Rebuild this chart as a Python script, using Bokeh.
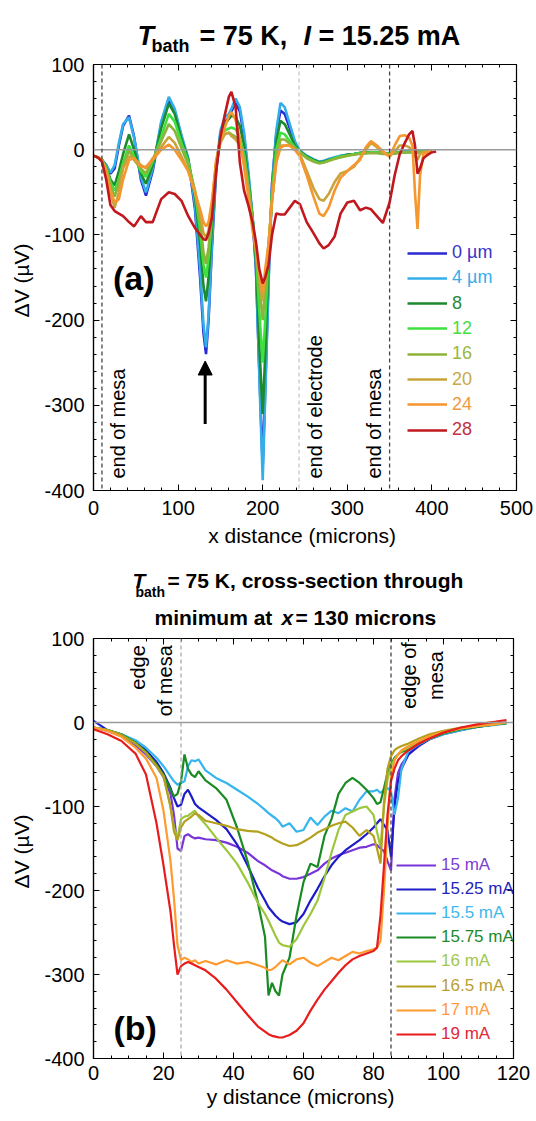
import math
from bokeh.plotting import figure
from bokeh.models import (Span, Label, Legend, LegendItem, LinearAxis,
                          SingleIntervalTicker, Arrow, NormalHead, Range1d,
                          PrintfTickFormatter)
from bokeh.layouts import column
from bokeh.embed import file_html
from bokeh.resources import INLINE

FONT = "Liberation Sans"
nan = float("nan")
W = 536
LEFT = 93

# ---------------- panel (a): Delta V vs x distance ----------------
xa = [0, 5, 10, 15, 20, 25, 30, 35, 42, 48, 56, 62, 70, 80, 89, 96,
      104, 112, 120, 126, 130, 133, 136, 140, 145, 150, 155, 160, 163, 168, 173, 178,
      183, 188, 192, 196, 200, 203, 207, 211, 216, 221, 226, 232, 238, 244, 252, 260,
      267, 272, 278, 285, 292, 300, 308, 315, 322, 328, 335, 342, 350, 356, 362, 368,
      373, 377, 380, 383, 386, 390, 395, 400, 405]

a_0um = [-7, -9, -12, -18, -28, -22, 5, 28, 40, 15, -35, -54, -25, 30, 58, 45,
         15, -12, -70, -150, -215, -240, -200, -115, -25, 18, 32, 38, 45, 55, 45, 15,
         -30, -80, -140, -260, -372, -280, -150, -40, 18, 46, 42, 25, 8, -2, -8, -12,
         -15, -14, -12, -10, -8, -6, -5, -4, -3, -3, -3, -4, -5, -4, -3, -2,
         -2, -2, -2, -3, -2, -2, -1, -1, nan]
a_4um = [-7, -9, -12, -18, -27, -18, 8, 30, 38, 14, -32, -50, -22, 33, 62, 48,
         17, -10, -65, -140, -205, -232, -195, -110, -20, 22, 38, 42, 48, 60, 50, 20,
         -25, -78, -135, -265, -388, -290, -155, -45, 22, 55, 50, 30, 10, -1, -7, -11,
         -14, -13, -11, -9, -7, -6, -5, -4, -3, -3, -3, -4, -4, -3, -3, -2,
         -2, -2, -2, -2, -2, -1, -1, -1, nan]
a_8 = [-7, -9, -12, -20, -35, -42, -25, -5, 18, 0, -28, -40, -18, 25, 54, 42,
       12, -12, -55, -110, -160, -178, -150, -90, -20, 15, 30, 36, 40, 38, 28, 5,
       -35, -80, -130, -230, -310, -240, -130, -50, 10, 34, 30, 18, 5, -2, -8, -12,
       -15, -14, -12, -10, -8, -6, -5, -4, -3, -3, -3, -4, -5, -4, -3, -3,
       -3, -2, -3, -3, -2, -2, -1, -1, nan]
a_12 = [-7, -9, -12, -21, -38, -48, -35, -15, 5, -8, -25, -32, -14, 15, 42, 33,
        8, -14, -50, -95, -135, -150, -128, -80, -18, 12, 22, 25, 26, 24, 14, -5,
        -40, -80, -120, -190, -250, -200, -120, -50, 0, 20, 18, 10, 3, -3, -9, -13,
        -16, -15, -13, -10, -8, -7, -5, -4, -4, -3, -3, -4, -5, -4, -3, -3,
        -3, -3, -3, -3, -2, -2, -2, -1, nan]
a_16 = [-7, -9, -12, -22, -42, -55, -40, -20, -1, -12, -22, -28, -12, 10, 30, 22,
        2, -18, -48, -85, -120, -134, -115, -72, -15, 10, 18, 20, 18, 15, 8, -10,
        -45, -85, -115, -160, -200, -165, -110, -60, -10, 12, 12, 7, 2, -3, -10, -14,
        -16, -15, -13, -11, -9, -7, -6, -5, -4, -4, -4, -5, -5, -4, -4, -3,
        -3, -3, -3, -3, -3, -2, -2, -1, nan]
a_20 = [-7, -9, -12, -25, -50, -68, -50, -22, -8, -10, -18, -22, -10, 3, 15, 8,
        -8, -25, -50, -75, -98, -103, -95, -65, -15, 8, 18, 20, 16, 12, 5, -15,
        -50, -90, -120, -150, -178, -150, -110, -60, -15, 5, 5, 5, 0, -5, -25, -45,
        -58, -60, -52, -38, -28, -25, -20, -10, 0, 8, 3, -3, -8, -2, 5, 5,
        3, -2, -8, -12, -5, -3, -2, -1, nan]
a_24 = [-7, -9, -12, -25, -48, -62, -58, -35, -12, -10, -20, -20, -12, 0, 6, 0,
        -12, -25, -50, -70, -85, -90, -85, -60, -12, 10, 25, 40, 44, 35, 12, -20,
        -55, -95, -115, -145, -168, -140, -110, -60, -15, 2, 5, 5, 0, -8, -30, -55,
        -75, -78, -68, -48, -33, -25, -18, -12, 3, 10, 5, -2, -8, 5, 16, 17,
        14, 5, -50, -93, -30, -5, -3, -2, nan]
a_28 = [-7, -9, -14, -35, -65, -72, -75, -78, -85, -90, -78, -85, -85, -58, -50, -52,
        -60, -78, -92, -100, -105, -106, -98, -80, -25, 15, 40, 62, 68, 50, -15, -48,
        -65, -85, -108, -140, -157, -150, -135, -100, -75, -76, -76, -68, -60, -64, -85, -98,
        -110, -116, -112, -102, -75, -62, -60, -71, -68, -70, -78, -86, -62, -30, -5, 8,
        18, 22, 5, -28, -22, -10, -6, -3, -2]

a_series = [a_0um, a_4um, a_8, a_12, a_16, a_20, a_24, a_28]
a_labels = ["0 µm", "4 µm", "8", "12", "16", "20", "24", "28"]
a_colors = ["#2a2ad2", "#33aee8", "#1e8a2e", "#3ee03e", "#8db33a", "#c9a43a", "#f5962e", "#c0181e"]
a_text_colors = ["#3434c8", "#33aee8", "#2a8a3a", "#44dd44", "#9ab840", "#c8a848", "#f09a40", "#c03040"]

# ---------------- panel (b): Delta V vs y distance ----------------
xb = [0, 4, 8, 12, 15, 18, 20, 22, 23, 24, 25, 26, 27, 28, 29, 30,
      32, 35, 38, 41, 44, 47, 49, 50, 51, 52, 53, 54, 56, 58, 60, 62,
      64, 66, 68, 70, 72, 74, 76, 78, 80, 81, 82, 83, 84, 85, 86, 87,
      88, 90, 93, 96, 100, 105, 110, 115, 118]

b_15 = [-6, -10, -16, -27, -38, -52, -65, -85, -110, -150, -153, -135, -133, -136, -138, -137,
        -139, -140, -143, -148, -155, -165, -170, -173, -176, -178, -180, -183, -186, -186, -184, -180,
        -176, -168, -162, -158, -155, -152, -149, -148, -145, -146, -150, -153, -165, -176, -90, -60,
        -50, -38, -28, -20, -14, -9, -5, -2, nan]
b_1525 = [2, -9, -15, -24, -33, -47, -60, -78, -90, -100, -98, -85, -80, -88, -97, -101,
          -107, -116, -127, -145, -170, -197, -212, -220, -225, -230, -234, -237, -240, -238, -228, -212,
          -198, -183, -170, -160, -152, -146, -140, -133, -125, -120, -115, -122, -128, -160, -100, -70,
          -55, -38, -27, -20, -13, -8, -5, -2, 0]
b_155 = [-6, -9, -14, -21, -30, -42, -52, -64, -70, -74, -72, -70, -52, -45, -46, -44,
         -57, -66, -72, -80, -88, -97, -104, -108, -111, -114, -118, -124, -120, -130, -128, -113,
         -122, -112, -105, -108, -102, -106, -92, -82, -82, -80, -84, -80, -78, -82, -110, -90,
         -55, -34, -26, -20, -14, -9, -5, -3, -1]
b_1575 = [-6, -9, -14, -24, -35, -50, -62, -80, -88, -85, -70, -38, -55, -62, -65, -58,
          -69, -78, -92, -125, -165, -215, -255, -325, -310, -320, -325, -300, -280, -230, -190, -168,
          -172, -135, -115, -85, -72, -66, -72, -80, -90, -97, -95, -78, -60, -50, -42, -38,
          -35, -32, -25, -19, -13, -8, -5, -2, -1]
b_16 = [-6, -9, -15, -25, -36, -52, -64, -100, -125, -137, -115, -112, -111, -108, -105, -112,
        -121, -137, -152, -168, -190, -215, -228, -236, -245, -254, -262, -265, -267, -258, -242, -228,
        -212, -185, -155, -128, -110, -106, -102, -100, -110, -130, -148, -100, -68, -52, -44, -38,
        -34, -30, -23, -17, -12, -7, -4, -2, 0]
b_165 = [-6, -9, -15, -25, -36, -52, -64, -100, -130, -140, -125, -118, -115, -112, -108, -110,
         -117, -120, -123, -127, -129, -130, -133, -135, -137, -140, -142, -144, -147, -146, -142, -137,
         -131, -127, -123, -120, -118, -125, -135, -128, -135, -150, -168, -95, -55, -40, -33, -30,
         -28, -25, -19, -14, -10, -6, -4, -2, nan]
b_17 = [-6, -10, -17, -30, -43, -66, -105, -165, -210, -265, -283, -280, -282, -285, -283, -287,
        -284, -288, -283, -287, -285, -289, -292, -295, -294, -291, -287, -283, -288, -282, -280, -286,
        -290, -285, -280, -283, -278, -273, -275, -272, -270, -268, -260, -200, -125, -65, -45, -38,
        -33, -28, -22, -16, -11, -7, -4, -2, 0]
b_19 = [-8, -14, -22, -37, -62, -120, -170, -225, -265, -300, -290, -287, -285, -287, -289, -291,
        -295, -305, -318, -333, -348, -362, -368, -371, -373, -374, -375, -375, -372, -367, -358, -343,
        -330, -318, -308, -298, -289, -282, -278, -275, -272, -268, -230, -170, -110, -70, -55, -45,
        -40, -33, -25, -19, -12, -6, -2, 1, 3]

b_series = [b_15, b_1525, b_155, b_1575, b_16, b_165, b_17, b_19]
b_labels = ["15 mA", "15.25 mA", "15.5 mA", "15.75 mA", "16 mA", "16.5 mA", "17 mA", "19 mA"]
b_colors = ["#7a35d8", "#1c1cc8", "#35b5ee", "#1a8a22", "#9cc63c", "#b4a01c", "#ff9a2e", "#e81c1c"]
b_text_colors = ["#7a40d0", "#2424b8", "#40b8ee", "#208a2a", "#a0c850", "#b8a030", "#ff9a40", "#e02838"]


def text_fig(height, fw):
    """Blank strip whose frame lines up with the plot frames; data units are page pixels
    horizontally and pixels up from the strip's bottom vertically."""
    t = figure(frame_width=fw, frame_height=height,
               x_range=Range1d(LEFT, LEFT + fw), y_range=Range1d(0, height),
               output_backend="svg", toolbar_location=None, x_axis_type=None, y_axis_type=None,
               min_border_left=LEFT, min_border_right=W - LEFT - fw,
               min_border_top=0, min_border_bottom=0)
    t.xgrid.visible = False
    t.ygrid.visible = False
    t.outline_line_color = None
    return t


def make_fig(xr, yr, fw, fh, top, bottom, xint, xminor, yint, yminor, xstand):
    p = figure(frame_width=fw, frame_height=fh,
               x_range=Range1d(*xr), y_range=Range1d(*yr),
               output_backend="svg", toolbar_location=None,
               min_border_left=LEFT, min_border_right=W - LEFT - fw,
               min_border_top=top, min_border_bottom=bottom)
    p.xgrid.visible = False
    p.ygrid.visible = False
    p.outline_line_color = "black"
    p.outline_line_width = 1.2
    p.xaxis.ticker = SingleIntervalTicker(interval=xint, num_minor_ticks=xminor)
    p.yaxis.ticker = SingleIntervalTicker(interval=yint, num_minor_ticks=yminor)
    for ax in (p.xaxis, p.yaxis):
        ax.formatter = PrintfTickFormatter(format="%d")
        ax.axis_line_color = "black"
        ax.axis_line_width = 1.2
        ax.major_tick_in = 6
        ax.major_tick_out = 0
        ax.minor_tick_in = 3
        ax.minor_tick_out = 0
        ax.major_tick_line_color = "black"
        ax.minor_tick_line_color = "black"
        ax.major_label_text_font = FONT
        ax.major_label_text_font_size = "20px"
        ax.major_label_text_color = "black"
        ax.axis_label_text_font = FONT
        ax.axis_label_text_font_size = "21px"
        ax.axis_label_text_font_style = "normal"
        ax.axis_label_text_color = "black"
    p.xaxis.major_label_standoff = xstand
    p.yaxis.major_label_standoff = 9
    for loc, interval, minor in (("above", xint, xminor), ("right", yint, yminor)):
        ax = LinearAxis(ticker=SingleIntervalTicker(interval=interval, num_minor_ticks=minor),
                        major_label_text_font_size="1px", major_label_text_color=None,
                        major_label_standoff=0,
                        axis_line_color="black", major_tick_in=6, major_tick_out=0,
                        minor_tick_in=3, minor_tick_out=0)
        p.add_layout(ax, loc)
    p.add_layout(Span(location=0, dimension="width", line_color="#9a9a9a", line_width=1.5))
    return p


def add_label(p, x, y, text, size="20px", style="normal", angle=0.0,
              align="left", baseline="alphabetic", color="black"):
    p.add_layout(Label(x=x, y=y, text=text, text_font=FONT, text_font_size=size,
                       text_font_style=style, text_color=color, angle=angle,
                       text_align=align, text_baseline=baseline))


def add_legends(p, renderers, labels, colors, x0, first_center, step, size):
    for i, (r, lab, col) in enumerate(zip(renderers, labels, colors)):
        leg = Legend(items=[LegendItem(label=lab, renderers=[r])],
                     location=(x0, first_center - step * i - 10),
                     label_text_color=col, label_text_font=FONT,
                     label_text_font_size=size, glyph_width=40, glyph_height=20,
                     label_height=20, label_standoff=5, padding=0, margin=0,
                     spacing=0, border_line_alpha=0, background_fill_alpha=0)
        p.add_layout(leg)


# ---------------- title strip (a) ----------------
ta = text_fig(52, 423)
add_label(ta, 137, 17, "T", size="27px", style="bold italic")
add_label(ta, 151, 7, "bath", size="18px", style="bold")
add_label(ta, 199, 17, "= 75 K,", size="27px", style="bold")
add_label(ta, 303, 17, "I", size="27px", style="bold italic")
add_label(ta, 318, 17, "= 15.25 mA", size="27px", style="bold")

# ---------------- figure (a) ----------------
pa = make_fig((0, 500), (-400, 100), 423, 426, 12, 72, 100, 5, 100, 5, 10)
pa.below[0].axis_label = "x distance  (microns)"
pa.below[0].axis_label_standoff = 6
pa.left[0].axis_label = "ΔV  (µV)"
pa.left[0].axis_label_standoff = 8

for xloc, col in ((10, "#444444"), (243, "#c8c8c8"), (350, "#444444")):
    pa.add_layout(Span(location=xloc, dimension="height", line_color=col,
                       line_width=1.3, line_dash="4 3"))

ra = []
for ys, col in zip(a_series, a_colors):
    ra.append(pa.line(xa, ys, line_color=col, line_width=2.6))

add_legends(pa, ra, a_labels, a_text_colors, 314, 237, 25.3, "18px")

add_label(pa, 23, -151, "(a)", size="34px", style="bold")
add_label(pa, 29, -386, "end of mesa", angle=math.pi / 2, baseline="middle")
add_label(pa, 262, -386, "end of electrode", angle=math.pi / 2, baseline="middle")
add_label(pa, 331, -386, "end of mesa", angle=math.pi / 2, baseline="middle")
pa.add_layout(Arrow(end=NormalHead(size=14, fill_color="black", line_color="black"),
                    x_start=132, y_start=-322, x_end=132, y_end=-248,
                    line_color="black", line_width=3))

# ---------------- title strip (b) ----------------
tb = text_fig(64, 420)
add_label(tb, 132, 46, "T", size="21px", style="bold italic")
add_label(tb, 135, 35, "bath", size="14px", style="bold")
add_label(tb, 167, 46, "= 75 K, cross-section through", size="21px", style="bold")
add_label(tb, 154, 9, "minimum at", size="21px", style="bold")
add_label(tb, 281, 9, "x", size="21px", style="bold italic")
add_label(tb, 295, 9, "= 130 microns", size="21px", style="bold")

# ---------------- figure (b) ----------------
pb = make_fig((0, 120), (-400, 100), 420, 420, 12, 30, 20, 4, 100, 5, 7)
pb.below[0].axis_label = "y distance  (microns)"
pb.below[0].axis_label_standoff = 2
pb.left[0].axis_label = "ΔV  (µV)"
pb.left[0].axis_label_standoff = 8

for xloc, col in ((25, "#aaaaaa"), (85, "#444444")):
    pb.add_layout(Span(location=xloc, dimension="height", line_color=col,
                       line_width=1.3, line_dash="4 3"))

rb = []
for ys, col in zip(b_series, b_colors):
    rb.append(pb.line(xb, ys, line_color=col, line_width=2.2))

add_legends(pb, rb, b_labels, b_text_colors, 303, 193, 24.1, "17px")

add_label(pb, 5.7, -364, "(b)", size="34px", style="bold")
add_label(pb, 16.6, 92, "edge\nof mesa", angle=math.pi / 2, align="right", baseline="middle")
add_label(pb, 94, 56, "edge of\nmesa", angle=math.pi / 2, align="center", baseline="middle")

layout = column(ta, pa, tb, pb, spacing=0)
open("out.html", "w").write(file_html(layout, INLINE))
